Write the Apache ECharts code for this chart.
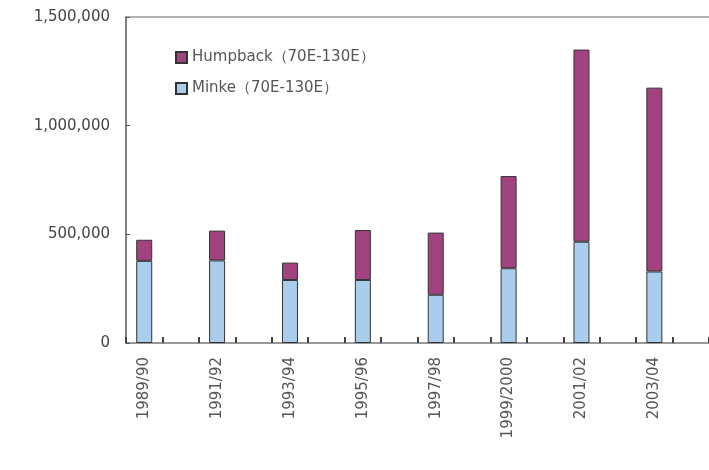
<!DOCTYPE html>
<html>
<head>
<meta charset="utf-8">
<script src="https://cdn.jsdelivr.net/npm/echarts@6/dist/echarts.min.js"></script>
<style>
  html, body { margin: 0; padding: 0; background: #fff; }
  #chart { width: 709px; height: 470px; }
</style>
</head>
<body>
<div id="chart"></div>
<script>
var seasons = ['1989/90', '1991/92', '1993/94', '1995/96', '1997/98', '1999/2000', '2001/02', '2003/04'];
var minke = [378000, 380000, 290000, 290000, 222000, 344000, 466000, 329000];
var humpback = [97000, 137000, 80000, 230000, 286000, 424000, 884000, 846000];
var yTicks = [0, 500000, 1000000, 1500000];

// each season takes two half-slots on the axis; the bar sits in the first one
var slots = [];
seasons.forEach(function (s) { slots.push(s, s + ' b'); });
function onSlots(values) {
  var out = [];
  values.forEach(function (v) { out.push(v, null); });
  return out;
}

var chart = echarts.init(document.getElementById('chart'));
var font = 'DejaVu Sans';
var options = {
  animation: false,
  legend: {
    orient: 'vertical',
    left: 170,
    top: 45,
    itemWidth: 11,
    itemHeight: 11,
    itemGap: 16,
    icon: 'rect',
    data: ['Humpback（70E-130E）', 'Minke（70E-130E）'],
    textStyle: { fontFamily: font, fontSize: 15, color: '#555' }
  },
  grid: { left: 126, top: 17, width: 590, height: 326 },
  xAxis: {
    type: 'category',
    data: slots,
    axisLine: { show: true, lineStyle: { color: '#777', width: 1.5 } },
    axisTick: {
      show: true,
      interval: function () { return true; },
      inside: true,
      length: 6,
      lineStyle: { color: '#444', width: 2 }
    },
    axisLabel: {
      interval: function (i) { return i % 2 === 0; },
      rotate: 90,
      margin: 14,
      fontFamily: font,
      fontSize: 15,
      color: '#555'
    }
  },
  yAxis: {
    type: 'value',
    min: yTicks[0],
    max: yTicks[yTicks.length - 1],
    interval: yTicks[1] - yTicks[0],
    axisLine: { show: true, lineStyle: { color: '#555', width: 1.5 } },
    axisTick: { show: true, inside: true, length: 4, lineStyle: { color: '#555' } },
    axisLabel: {
      margin: 16,
      fontFamily: font,
      fontSize: 15,
      color: '#444',
      formatter: function (v) { return v.toLocaleString('en-US'); }
    },
    splitLine: {
      show: true,
      lineStyle: { color: ['transparent', 'transparent', 'transparent', '#999'], width: 1.5 }
    }
  },
  series: [{
    name: 'Minke（70E-130E）',
    type: 'bar',
    stack: 'whales',
    data: onSlots(minke),
    barWidth: 16,
    itemStyle: { color: '#aacdee', borderColor: '#333', borderWidth: 1 }
  }, {
    name: 'Humpback（70E-130E）',
    type: 'bar',
    stack: 'whales',
    data: onSlots(humpback),
    barWidth: 16,
    itemStyle: { color: '#a2437f', borderColor: '#333', borderWidth: 1 }
  }]
};
chart.setOption(options);
</script>
</body>
</html>
